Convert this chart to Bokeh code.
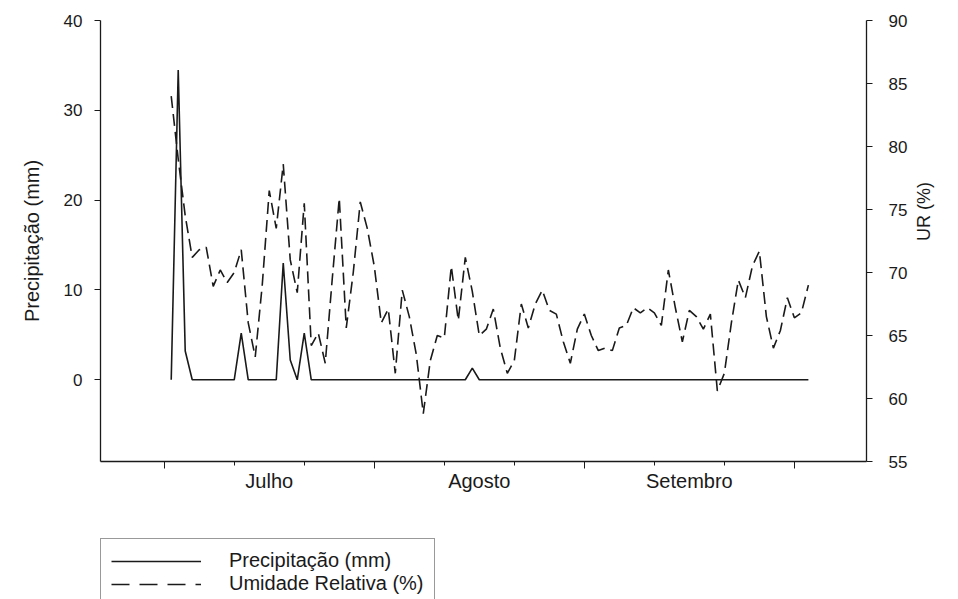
import math
from bokeh.plotting import figure
from bokeh.layouts import column
from bokeh.models import (Range1d, LinearAxis, FixedTicker, Legend, LegendItem,
                          ColumnDataSource)
from bokeh.embed import file_html
from bokeh.resources import INLINE

# ---- data (day index: 1 = 1 July ... 92 = 30 September) ----
days = list(range(1, 93))

precip = [0, 34.5, 3.2, 0, 0, 0, 0, 0, 0, 0,
          5.2, 0, 0, 0, 0, 0, 13.0, 2.2, 0, 5.2,
          0, 0, 0, 0, 0, 0, 0, 0, 0, 0,
          0, 0, 0, 0, 0, 0, 0, 0, 0, 0,
          0, 0, 0, 1.3, 0, 0, 0, 0, 0, 0,
          0, 0, 0, 0, 0, 0, 0, 0, 0, 0,
          0, 0, 0, 0, 0, 0, 0, 0, 0, 0,
          0, 0, 0, 0, 0, 0, 0, 0, 0, 0,
          0, 0, 0, 0, 0, 0, 0, 0, 0, 0,
          0, 0]

umidade = [84.0, 79.0, 74.5, 71.2, 71.8, 72.0, 68.9, 70.2, 69.2, 70.0,
           71.8, 66.0, 63.3, 69.0, 76.5, 73.5, 78.6, 71.0, 68.4, 75.5,
           64.2, 65.2, 62.8, 69.5, 75.9, 65.6, 70.0, 75.6, 73.5, 70.5,
           66.0, 67.1, 62.0, 68.6, 66.5, 63.5, 58.8, 63.0, 65.0, 64.8,
           70.5, 66.2, 71.2, 68.5, 65.0, 65.5, 67.1, 64.0, 62.0, 63.0,
           67.5, 65.6, 67.5, 68.6, 67.0, 66.7, 64.5, 62.8, 65.5, 66.7,
           65.0, 63.8, 64.0, 63.8, 65.6, 65.8, 67.2, 66.8, 67.2, 66.8,
           65.8, 70.2, 67.2, 64.5, 67.0, 66.5, 65.5, 66.7, 60.6, 62.0,
           66.0, 69.4, 68.0, 70.5, 71.7, 66.5, 64.0, 65.4, 68.0, 66.4,
           66.8, 69.0]

month_ticks = [15, 45, 75]
month_labels = ["Julho", "Agosto", "Setembro"]
major_x = [0, 30, 60, 90]
minor_x = [10, 20, 40, 50, 70, 80]
left_ticks = [0, 10, 20, 30, 40]
right_ticks = [55, 60, 65, 70, 75, 80, 85, 90]
legend_labels = ["Precipitação (mm)", "Umidade Relativa (%)"]

FONT = "Liberation Sans"
INK = "#1a1a1a"

p = figure(width=958, height=530, output_backend="svg", toolbar_location=None,
           x_range=Range1d(-9.1, 100.3), y_range=Range1d(-9.1, 40),
           min_border_left=100, min_border_right=92, min_border_top=20,
           min_border_bottom=69)
p.outline_line_color = None
p.xgrid.visible = False
p.ygrid.visible = False
p.background_fill_color = "white"
p.border_fill_color = "white"

p.extra_y_ranges = {"ur": Range1d(55, 90)}

src = ColumnDataSource(dict(d=days, pr=precip, ur=umidade))
r1 = p.line("d", "pr", source=src, line_color=INK, line_width=1.6)
r2 = p.line("d", "ur", source=src, y_range_name="ur", line_color=INK,
            line_width=1.6, line_dash="12 6")

# left axis
ya = p.yaxis[0]
ya.ticker = FixedTicker(ticks=left_ticks)
ya.axis_label = "Precipitação (mm)"
ya.axis_label_text_font = FONT
ya.axis_label_text_font_style = "normal"
ya.axis_label_text_font_size = "20px"
ya.axis_label_text_color = INK
ya.axis_label_standoff = 18
ya.major_label_text_font = FONT
ya.major_label_text_font_size = "17px"
ya.major_label_text_color = INK
ya.major_tick_out = 6
ya.major_tick_in = 0
ya.major_label_standoff = 12
ya.axis_line_color = INK
ya.major_tick_line_color = INK
ya.axis_line_width = 1.3

# right axis
ra = LinearAxis(y_range_name="ur", ticker=FixedTicker(ticks=right_ticks))
ra.axis_label = "UR (%)"
ra.axis_label_text_font = FONT
ra.axis_label_text_font_style = "normal"
ra.axis_label_text_font_size = "18px"
ra.axis_label_text_color = INK
ra.axis_label_standoff = 14
ra.major_label_text_font = FONT
ra.major_label_text_font_size = "17px"
ra.major_label_text_color = INK
ra.major_tick_out = 6
ra.major_tick_in = 0
ra.major_label_standoff = 16
ra.axis_line_color = INK
ra.major_tick_line_color = INK
ra.axis_line_width = 1.3
try:
    ra.axis_label_orientation = math.pi / 2
except Exception:
    pass
p.add_layout(ra, "right")

# bottom axis with ticks only
xa = p.xaxis[0]
xa.ticker = FixedTicker(ticks=major_x, minor_ticks=minor_x)
xa.major_label_overrides = {t: "" for t in major_x}
xa.major_label_standoff = 0
xa.major_tick_out = 7
xa.major_tick_in = 0
xa.minor_tick_out = 4
xa.minor_tick_in = 0
xa.axis_line_color = INK
xa.major_tick_line_color = INK
xa.minor_tick_line_color = INK
xa.axis_line_width = 1.3

# month labels axis
ma = LinearAxis(ticker=FixedTicker(ticks=month_ticks),
                major_label_overrides=dict(zip(month_ticks, month_labels)))
ma.axis_line_color = None
ma.major_tick_line_color = None
ma.minor_tick_line_color = None
ma.major_tick_out = 0
ma.major_label_standoff = 1
ma.major_label_text_font = FONT
ma.major_label_text_font_size = "20px"
ma.major_label_text_color = INK
p.add_layout(ma, "below")

# ---- legend strip below the chart (series drawn off-screen, used only as legend keys) ----
p2 = figure(width=958, height=69, output_backend="svg", toolbar_location=None,
            x_range=Range1d(-300, -200), y_range=Range1d(-300, -200),
            x_axis_location=None, y_axis_location=None,
            min_border_left=0, min_border_right=0, min_border_top=0,
            min_border_bottom=0)
p2.outline_line_color = None
p2.xgrid.visible = False
p2.ygrid.visible = False
p2.background_fill_color = "white"
p2.border_fill_color = "white"
k1 = p2.line("d", "pr", source=src, line_color=INK, line_width=1.6)
k2 = p2.line("d", "ur", source=src, line_color=INK, line_width=1.6,
             line_dash="18 10")

legend = Legend(items=[LegendItem(label=legend_labels[0], renderers=[k1]),
                       LegendItem(label=legend_labels[1], renderers=[k2])],
                location=(0, -7), orientation="vertical")
legend.padding = 10
legend.spacing = -2
legend.margin = 0
legend.label_height = 20
legend.glyph_height = 20
legend.glyph_width = 90
legend.label_standoff = 28
legend.label_text_font = FONT
legend.label_text_font_size = "20px"
legend.label_text_color = INK
legend.border_line_color = "#333333"
legend.border_line_width = 1.5
legend.background_fill_alpha = 1
p2.add_layout(legend, "center")

open("out.html", "w").write(file_html(column(p, p2, spacing=0), INLINE))
